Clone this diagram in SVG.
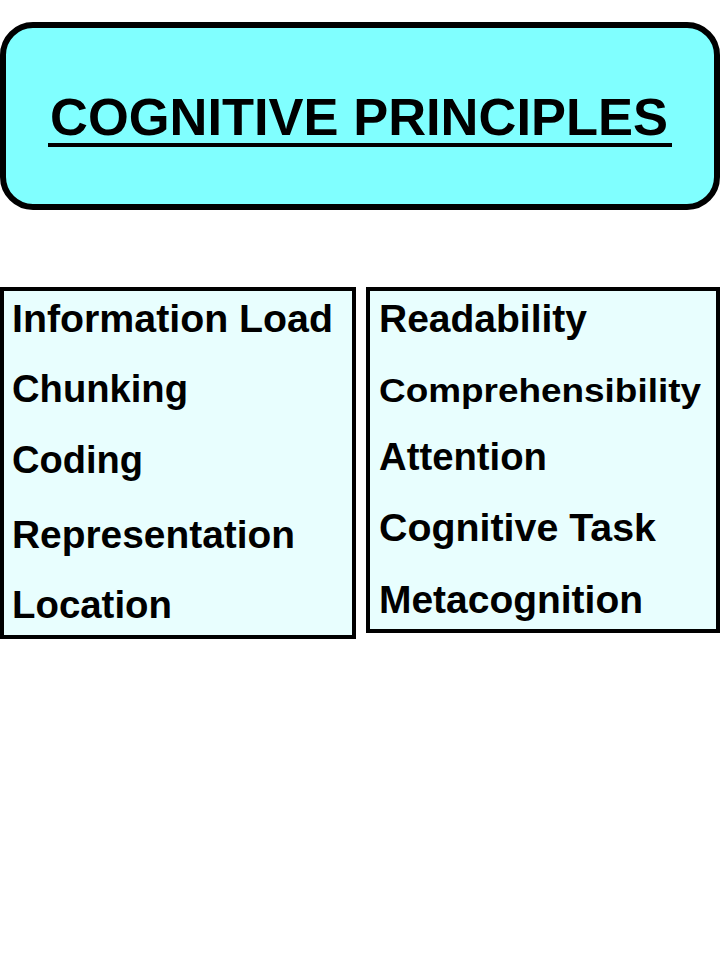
<svg xmlns="http://www.w3.org/2000/svg" width="720" height="960" viewBox="0 0 720 960">
<style>
.box{fill:#E8FEFE;stroke:#000;stroke-width:4}
.t{font-family:"Liberation Sans",Arial,sans-serif;font-weight:bold;fill:#000}
</style>
<rect width="720" height="960" fill="#fff"/>
<g id="title">
<rect x="3" y="25" width="714" height="182" rx="30" ry="30" fill="#80FFFF" stroke="#000" stroke-width="6"/>
<text class="t" x="50" y="135" font-size="52.5" textLength="618" lengthAdjust="spacingAndGlyphs">COGNITIVE PRINCIPLES</text>
<rect x="48" y="143" width="624" height="4" fill="#000"/>
</g>
<g id="left-list">
<rect class="box" x="2" y="289" width="352" height="348"/>
<text class="t" x="12" y="332" font-size="39" textLength="321" lengthAdjust="spacingAndGlyphs">Information Load</text>
<text class="t" x="12" y="402" font-size="38.5" textLength="176" lengthAdjust="spacingAndGlyphs">Chunking</text>
<text class="t" x="12" y="473" font-size="38.5" textLength="131" lengthAdjust="spacingAndGlyphs">Coding</text>
<text class="t" x="12" y="548" font-size="38.5" textLength="283" lengthAdjust="spacingAndGlyphs">Representation</text>
<text class="t" x="12" y="618" font-size="38.5" textLength="160" lengthAdjust="spacingAndGlyphs">Location</text>
</g>
<g id="right-list">
<rect class="box" x="368" y="289" width="350" height="342"/>
<text class="t" x="379" y="332" font-size="39" textLength="208" lengthAdjust="spacingAndGlyphs">Readability</text>
<text class="t" x="379" y="402" font-size="33" textLength="322" lengthAdjust="spacingAndGlyphs">Comprehensibility</text>
<text class="t" x="379" y="470" font-size="38.5" textLength="168" lengthAdjust="spacingAndGlyphs">Attention</text>
<text class="t" x="379" y="541" font-size="39" textLength="277" lengthAdjust="spacingAndGlyphs">Cognitive Task</text>
<text class="t" x="379" y="613" font-size="39" textLength="264" lengthAdjust="spacingAndGlyphs">Metacognition</text>
</g>
</svg>
